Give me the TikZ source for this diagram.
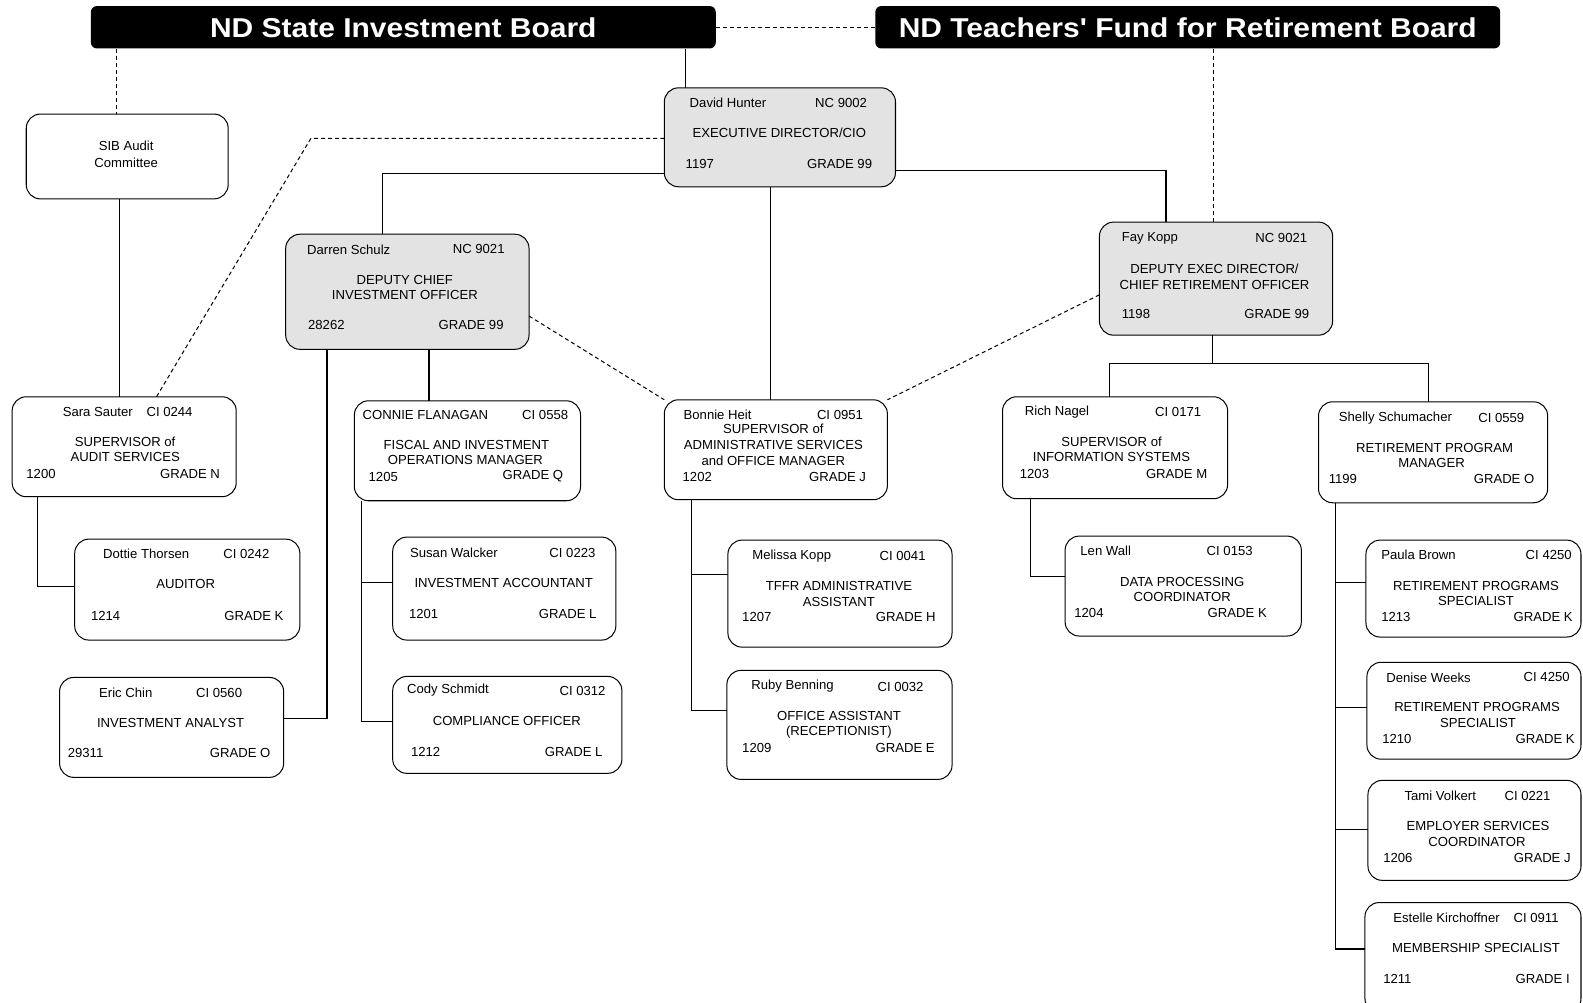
\documentclass[tikz,border=0pt]{standalone}
\usepackage{fontspec}
\setmainfont{Liberation Sans}
\newfontfamily\boardfont[Ligatures=TeXOff, FakeStretch=1.1]{Liberation Sans}

\tikzset{
  card/.style={draw, line width=1pt, rounded corners=14pt, fill=white, inner sep=0pt, outer sep=0pt},
  boss/.style={card, fill=gray!22},
  board/.style={fill=black, rounded corners=6pt, text=white, inner sep=0pt, text depth=0pt, font=\boardfont\fontsize{27}{32}\selectfont\bfseries},
  txt/.style={inner sep=0pt, font=\fontsize{13}{15}\selectfont},
  link/.style={line width=1.2pt},
  dashlink/.style={line width=1pt, dash pattern=on 4pt off 3pt}
}

% box from (x1,y1) to (x2,y2), named
\newcommand{\staffbox}[6][card]{%
  \node[#1, minimum width={(#4-#2)*1pt}, minimum height={(#5-#3)*1pt}] (#6) at ({(#2+#4)/2},{(#3+#5)/2}) {};}

\begin{document}
\begin{tikzpicture}[x=1pt, y=-1pt]
    \useasboundingbox (0,0) rectangle (1568,993);

    % boards
    \node[board, minimum width=619pt, minimum height=42pt] (sib) at (399.5,27) {ND State Investment Board};
    \node[board, minimum width=619pt, minimum height=42pt] (tffr) at (1176.5,27) {ND Teachers' Fund for Retirement Board};

    % boxes
    \staffbox{26}{113}{226}{197}{audit}
    \staffbox[boss]{658}{87}{887}{185}{hunter}
    \staffbox[boss]{283}{232}{524}{346}{schulz}
    \staffbox[boss]{1089}{220}{1320}{332}{kopp}
    \staffbox{12}{393}{234}{492}{sauter}
    \staffbox{74}{534}{297}{634}{thorsen}
    \staffbox{59}{671}{281}{770}{chin}
    \staffbox{351}{397}{575}{496}{flanagan}
    \staffbox{389}{532}{610}{634}{walcker}
    \staffbox{389}{670}{616}{766}{schmidt}
    \staffbox{658}{396}{879}{495}{heit}
    \staffbox{721}{535}{943}{641}{melissa}
    \staffbox{720}{664}{943}{772}{benning}
    \staffbox{993}{393}{1216}{494}{nagel}
    \staffbox{1055}{531}{1289}{630}{wall}
    \staffbox{1306}{398}{1533}{498}{schumacher}
    \staffbox{1353}{535}{1566}{631}{brown}
    \staffbox{1354}{656}{1566}{752}{weeks}
    \staffbox{1355}{773}{1566}{872}{volkert}
    \staffbox{1352}{894}{1566}{1003}{estelle}

    % texts
    \node[txt] (audit-a) at (125,144) {SIB Audit};
    \node[txt] (audit-b) at (125,161) {Committee};

    \node[txt, anchor=west] (hunter-nm) at (683,102) {David Hunter};
    \node[txt, anchor=east] (hunter-cd) at (859,102) {NC 9002};
    \node[txt] (hunter-ti) at (772,132) {EXECUTIVE DIRECTOR/CIO};
    \node[txt, anchor=west] (hunter-no) at (679,162) {1197};
    \node[txt, anchor=east] (hunter-gr) at (864,162) {GRADE 99};

    \node[txt, anchor=west] (schulz-nm) at (304,247) {Darren Schulz};
    \node[txt, anchor=east] (schulz-cd) at (500,247) {NC 9021};
    \node[txt] (schulz-ti) at (401,277) {DEPUTY CHIEF};
    \node[txt] (schulz-tj) at (401,292) {INVESTMENT OFFICER};
    \node[txt, anchor=west] (schulz-no) at (305,322) {28262};
    \node[txt, anchor=east] (schulz-gr) at (499,322) {GRADE 99};

    \node[txt, anchor=west] (kopp-nm) at (1111,236) {Fay Kopp};
    \node[txt, anchor=east] (kopp-cd) at (1295,236) {NC 9021};
    \node[txt] (kopp-ti) at (1203,266) {DEPUTY EXEC DIRECTOR/};
    \node[txt] (kopp-tj) at (1203,282) {CHIEF RETIREMENT OFFICER};
    \node[txt, anchor=west] (kopp-no) at (1111,311) {1198};
    \node[txt, anchor=east] (kopp-gr) at (1297,311) {GRADE 99};

    \node[txt, anchor=west] (sauter-nm) at (62,408) {Sara Sauter};
    \node[txt, anchor=west] (sauter-cd) at (145,408) {CI 0244};
    \node[txt] (sauter-ti) at (124,438) {SUPERVISOR of};
    \node[txt] (sauter-tj) at (124,453) {AUDIT SERVICES};
    \node[txt, anchor=west] (sauter-no) at (26,469) {1200};
    \node[txt, anchor=east] (sauter-gr) at (218,469) {GRADE N};

    \node[txt, anchor=west] (thorsen-nm) at (102,549) {Dottie Thorsen};
    \node[txt, anchor=east] (thorsen-cd) at (267,549) {CI 0242};
    \node[txt] (thorsen-ti) at (184,578) {AUDITOR};
    \node[txt, anchor=west] (thorsen-no) at (90,610) {1214};
    \node[txt, anchor=east] (thorsen-gr) at (281,610) {GRADE K};

    \node[txt, anchor=west] (chin-nm) at (98,686) {Eric Chin};
    \node[txt, anchor=east] (chin-cd) at (240,686) {CI 0560};
    \node[txt] (chin-ti) at (169,716) {INVESTMENT ANALYST};
    \node[txt, anchor=west] (chin-no) at (67,746) {29311};
    \node[txt, anchor=east] (chin-gr) at (268,746) {GRADE O};

    \node[txt, anchor=west] (flanagan-nm) at (359,411) {CONNIE FLANAGAN};
    \node[txt, anchor=east] (flanagan-cd) at (563,411) {CI 0558};
    \node[txt] (flanagan-ti) at (462,441) {FISCAL AND INVESTMENT};
    \node[txt] (flanagan-tj) at (461,456) {OPERATIONS MANAGER};
    \node[txt, anchor=west] (flanagan-no) at (365,472) {1205};
    \node[txt, anchor=east] (flanagan-gr) at (558,472) {GRADE Q};

    \node[txt, anchor=west] (walcker-nm) at (406,548) {Susan Walcker};
    \node[txt, anchor=east] (walcker-cd) at (590,548) {CI 0223};
    \node[txt] (walcker-ti) at (499,577) {INVESTMENT ACCOUNTANT};
    \node[txt, anchor=west] (walcker-no) at (405,608) {1201};
    \node[txt, anchor=east] (walcker-gr) at (591,608) {GRADE L};

    \node[txt, anchor=west] (schmidt-nm) at (403,684) {Cody Schmidt};
    \node[txt, anchor=east] (schmidt-cd) at (600,684) {CI 0312};
    \node[txt] (schmidt-ti) at (502,714) {COMPLIANCE OFFICER};
    \node[txt, anchor=west] (schmidt-no) at (407,745) {1212};
    \node[txt, anchor=east] (schmidt-gr) at (597,745) {GRADE L};

    \node[txt, anchor=west] (heit-nm) at (677,411) {Bonnie Heit};
    \node[txt, anchor=east] (heit-cd) at (855,411) {CI 0951};
    \node[txt] (heit-ti) at (766,425) {SUPERVISOR of};
    \node[txt] (heit-tj) at (766,441) {ADMINISTRATIVE SERVICES};
    \node[txt] (heit-tk) at (766,456) {and OFFICE MANAGER};
    \node[txt, anchor=west] (heit-no) at (676,472) {1202};
    \node[txt, anchor=east] (heit-gr) at (858,472) {GRADE J};

    \node[txt, anchor=west] (melissa-nm) at (745,551) {Melissa Kopp};
    \node[txt, anchor=east] (melissa-cd) at (917,551) {CI 0041};
    \node[txt] (melissa-ti) at (831,580) {TFFR ADMINISTRATIVE};
    \node[txt] (melissa-tj) at (831,596) {ASSISTANT};
    \node[txt, anchor=west] (melissa-no) at (735,611) {1207};
    \node[txt, anchor=east] (melissa-gr) at (927,611) {GRADE H};

    \node[txt, anchor=west] (benning-nm) at (744,680) {Ruby Benning};
    \node[txt, anchor=east] (benning-cd) at (915,680) {CI 0032};
    \node[txt] (benning-ti) at (831,709) {OFFICE ASSISTANT};
    \node[txt] (benning-tj) at (831,725) {(RECEPTIONIST)};
    \node[txt, anchor=west] (benning-no) at (735,741) {1209};
    \node[txt, anchor=east] (benning-gr) at (926,741) {GRADE E};

    \node[txt, anchor=west] (nagel-nm) at (1015,408) {Rich Nagel};
    \node[txt, anchor=east] (nagel-cd) at (1190,408) {CI 0171};
    \node[txt] (nagel-ti) at (1101,438) {SUPERVISOR of};
    \node[txt] (nagel-tj) at (1101,453) {INFORMATION SYSTEMS};
    \node[txt, anchor=west] (nagel-no) at (1010,469) {1203};
    \node[txt, anchor=east] (nagel-gr) at (1196,469) {GRADE M};

    \node[txt, anchor=west] (wall-nm) at (1070,546) {Len Wall};
    \node[txt, anchor=east] (wall-cd) at (1241,546) {CI 0153};
    \node[txt] (wall-ti) at (1171,576) {DATA PROCESSING};
    \node[txt] (wall-tj) at (1171,591) {COORDINATOR};
    \node[txt, anchor=west] (wall-no) at (1064,607) {1204};
    \node[txt, anchor=east] (wall-gr) at (1255,607) {GRADE K};

    \node[txt, anchor=west] (schumacher-nm) at (1326,414) {Shelly Schumacher};
    \node[txt, anchor=east] (schumacher-cd) at (1510,414) {CI 0559};
    \node[txt] (schumacher-ti) at (1421,444) {RETIREMENT PROGRAM};
    \node[txt] (schumacher-tj) at (1418,459) {MANAGER};
    \node[txt, anchor=west] (schumacher-no) at (1316,474) {1199};
    \node[txt, anchor=east] (schumacher-gr) at (1520,474) {GRADE O};

    \node[txt, anchor=west] (brown-nm) at (1368,550) {Paula Brown};
    \node[txt, anchor=east] (brown-cd) at (1557,550) {CI 4250};
    \node[txt] (brown-ti) at (1462,580) {RETIREMENT PROGRAMS};
    \node[txt] (brown-tj) at (1462,595) {SPECIALIST};
    \node[txt, anchor=west] (brown-no) at (1368,611) {1213};
    \node[txt, anchor=east] (brown-gr) at (1558,611) {GRADE K};

    \node[txt, anchor=west] (weeks-nm) at (1373,671) {Denise Weeks};
    \node[txt, anchor=east] (weeks-cd) at (1555,671) {CI 4250};
    \node[txt] (weeks-ti) at (1463,700) {RETIREMENT PROGRAMS};
    \node[txt] (weeks-tj) at (1464,716) {SPECIALIST};
    \node[txt, anchor=west] (weeks-no) at (1369,732) {1210};
    \node[txt, anchor=east] (weeks-gr) at (1560,732) {GRADE K};

    \node[txt, anchor=west] (volkert-nm) at (1391,788) {Tami Volkert};
    \node[txt, anchor=east] (volkert-cd) at (1536,788) {CI 0221};
    \node[txt] (volkert-ti) at (1464,818) {EMPLOYER SERVICES};
    \node[txt] (volkert-tj) at (1463,834) {COORDINATOR};
    \node[txt, anchor=west] (volkert-no) at (1370,850) {1206};
    \node[txt, anchor=east] (volkert-gr) at (1556,850) {GRADE J};

    \node[txt, anchor=west] (estelle-nm) at (1380,909) {Estelle Kirchoffner};
    \node[txt, anchor=east] (estelle-cd) at (1544,909) {CI 0911};
    \node[txt] (estelle-ti) at (1462,939) {MEMBERSHIP SPECIALIST};
    \node[txt, anchor=west] (estelle-no) at (1370,970) {1211};
    \node[txt, anchor=east] (estelle-gr) at (1555,970) {GRADE I};

    % dashed links
    \coordinate (auditbend) at (308,137);
    \draw[dashlink] (sib.east) -- (tffr.west);
    \draw[dashlink] (sib.south -| 115,0) -- (audit.north -| 115,0);
    \draw[dashlink] (tffr.south -| 1202,0) -- (kopp.north -| 1202,0);
    \draw[dashlink] (hunter.west |- auditbend) -- (auditbend) -- (sauter.north -| 155,0);
    \draw[dashlink] (schulz.east |- 0,313) -- (heit.north west);
    \draw[dashlink] (kopp.west |- 0,292) -- (heit.north east);

    % solid links
    \coordinate (fork) at (1201,360);
    \draw[link] (sib.south -| 679,0) -- (hunter.north -| 679,0);
    \draw[link] (audit.south -| 118,0) -- (sauter.north -| 118,0);
    \draw[link] (hunter.west |- 0,172) -| (schulz.north -| 379,0);
    \draw[link] (hunter.east |- 0,169) -| (kopp.north -| 1155,0);
    \draw[link] (hunter.south -| 763,0) -- (heit.north -| 763,0);
    \draw[link] (schulz.south -| 425,0) -- (flanagan.north -| 425,0);
    \draw[link] (schulz.south -| 324,0) |- (chin.east |- 0,712);
    \draw[link] (sauter.south -| 37,0) |- (thorsen.west |- 0,581);
    \draw[link] (flanagan.south -| 358,0) |- (walcker.west |- 0,577);
    \draw[link] (flanagan.south -| 358,0) |- (schmidt.west |- 0,715);
    \draw[link] (heit.south -| 685,0) |- (melissa.west |- 0,569);
    \draw[link] (heit.south -| 685,0) |- (benning.west |- 0,704);
    \draw[link] (kopp.south -| fork) -- (fork);
    \draw[link] (nagel.north -| 1099,0) |- (fork) -| (schumacher.north -| 1415,0);
    \draw[link] (nagel.south -| 1021,0) |- (wall.west |- 0,571);
    \draw[link] (schumacher.south -| 1323,0) |- (brown.west |- 0,577);
    \draw[link] (schumacher.south -| 1323,0) |- (weeks.west |- 0,701);
    \draw[link] (schumacher.south -| 1323,0) |- (volkert.west |- 0,822);
    \draw[link] (schumacher.south -| 1323,0) |- (estelle.west |- 0,940);
\end{tikzpicture}
\end{document}
